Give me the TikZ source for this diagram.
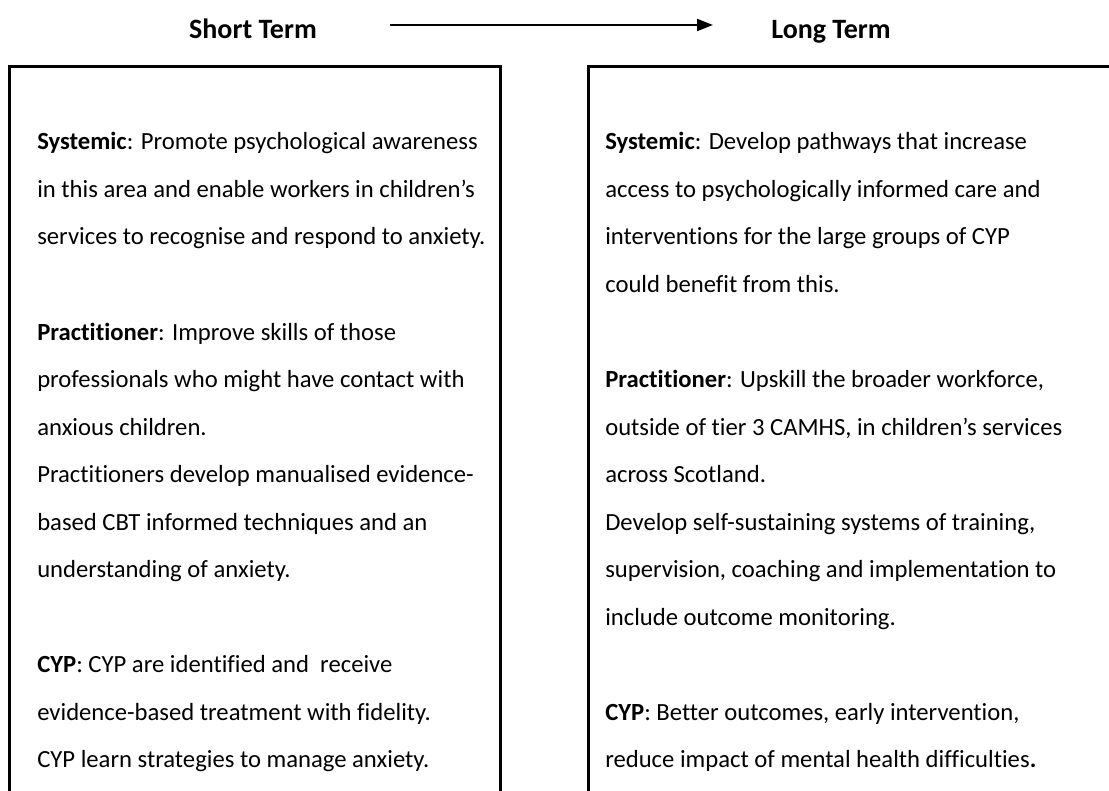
\documentclass[tikz,border=0pt]{standalone}
\usepackage{fontspec}
\setmainfont[Ligatures={NoCommon,NoContextual}]{Carlito}
\usetikzlibrary{arrows.meta}
\begin{document}
\begin{tikzpicture}[x=0.75pt,y=-0.75pt,
  heading/.style={font=\fontsize{21}{25}\selectfont\bfseries, anchor=base, inner sep=0pt},
  txt/.style={font=\fontsize{18.5}{22}\selectfont, anchor=base west, inner sep=0pt},
  frame/.style={line width=2.25pt},
  timeline/.style={line width=1.5pt, -{Triangle[length=12pt,width=9pt]}},
]
\useasboundingbox (0,0) rectangle (1109,791);

% headings and the time arrow between them
\node[heading] (short) at (253,39) {Short Term};
\node[heading] (long) at (831,39) {Long Term};
\coordinate (arrowstart) at (390,25);
\coordinate (arrowend) at (713,25);
\draw[timeline] (arrowstart) -- (arrowend);

% two open-bottomed frames
\draw[frame] (9,800) -- (9,67) -- (500,67) -- (500,800);
\draw[frame] (588,800) -- (588,67) -- (1120,67);

% short term column
\def\ls{47.5}
\def\lz{150}
\node[txt] (s0) at (37,\lz+0*\ls) {\textbf{Systemic}: Promote psychological awareness};
\node[txt] (s1) at (37,\lz+1*\ls) {in this area and enable workers in children’s};
\node[txt] (s2) at (37,\lz+2*\ls) {services to recognise and respond to anxiety.};
\node[txt] (s4) at (37,\lz+4*\ls) {\textbf{Practitioner}: Improve skills of those};
\node[txt] (s5) at (37,\lz+5*\ls) {professionals who might have contact with};
\node[txt] (s6) at (37,\lz+6*\ls) {anxious children.};
\node[txt] (s7) at (37,\lz+7*\ls) {Practitioners develop manualised evidence-};
\node[txt] (s8) at (37,\lz+8*\ls) {based CBT informed techniques and an};
\node[txt] (s9) at (37,\lz+9*\ls) {understanding of anxiety.};
\node[txt] (s11) at (37,\lz+11*\ls) {\textbf{CYP}: CYP are identified and~ receive};
\node[txt] (s12) at (37,\lz+12*\ls) {evidence-based treatment with fidelity.};
\node[txt] (s13) at (37,\lz+13*\ls) {CYP learn strategies to manage anxiety.};

% long term column
\node[txt] (l0) at (605,\lz+0*\ls) {\textbf{Systemic}: Develop pathways that increase};
\node[txt] (l1) at (605,\lz+1*\ls) {access to psychologically informed care and};
\node[txt] (l2) at (605,\lz+2*\ls) {interventions for the large groups of CYP};
\node[txt] (l3) at (605,\lz+3*\ls) {could benefit from this.};
\node[txt] (l5) at (605,\lz+5*\ls) {\textbf{Practitioner}: Upskill the broader workforce,};
\node[txt] (l6) at (605,\lz+6*\ls) {outside of tier 3 CAMHS, in children’s services};
\node[txt] (l7) at (605,\lz+7*\ls) {across Scotland.};
\node[txt] (l8) at (605,\lz+8*\ls) {Develop self-sustaining systems of training,};
\node[txt] (l9) at (605,\lz+9*\ls) {supervision, coaching and implementation to};
\node[txt] (l10) at (605,\lz+10*\ls) {include outcome monitoring.};
\node[txt] (l12) at (605,\lz+12*\ls) {\textbf{CYP}: Better outcomes, early intervention,};
\node[txt] (l13) at (605,\lz+13*\ls) {reduce impact of mental health difficulties\textbf{.}};
\end{tikzpicture}
\end{document}
